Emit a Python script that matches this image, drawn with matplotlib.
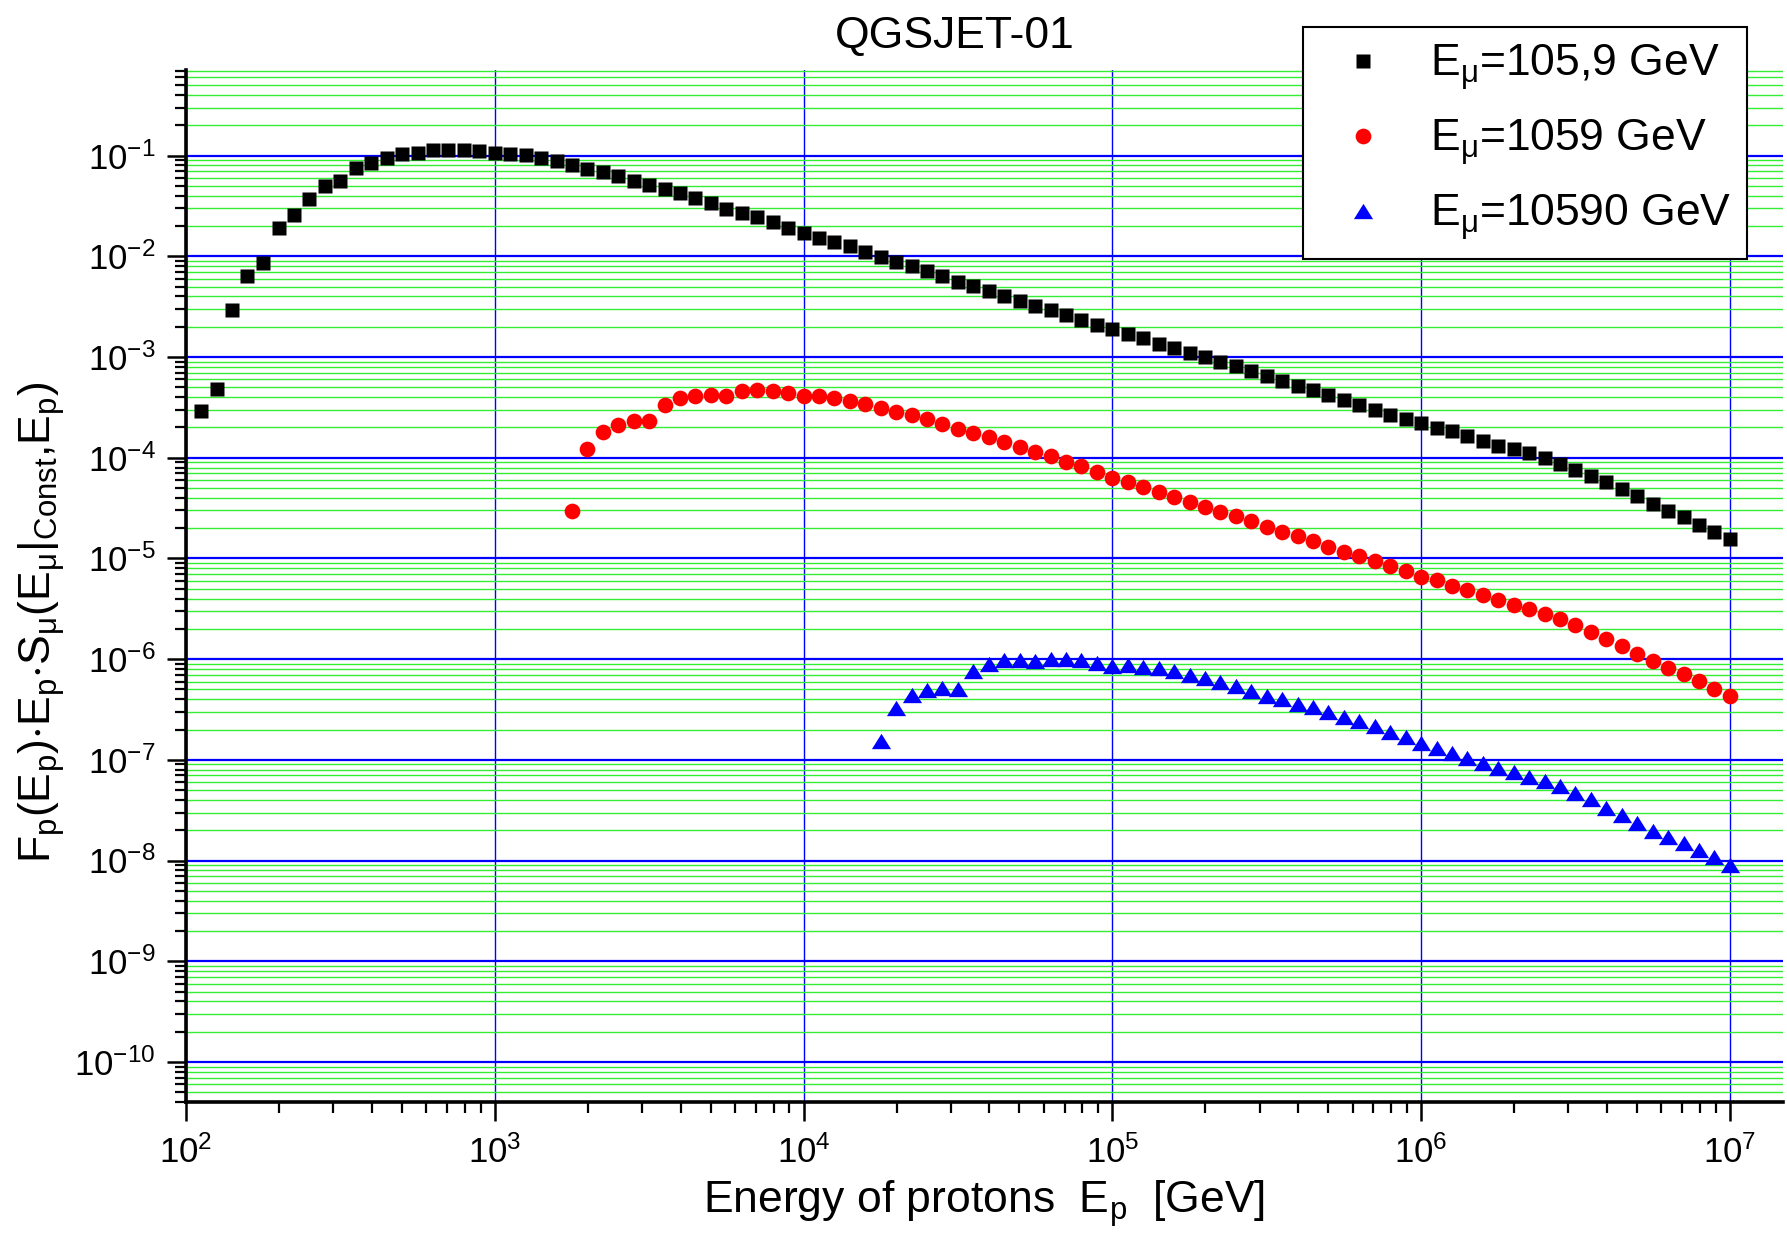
import matplotlib
matplotlib.use("Agg")
import matplotlib.pyplot as plt
from matplotlib.ticker import LogLocator, NullFormatter, LogFormatterSciNotation

plt.rcParams["font.family"] = ["Liberation Sans", "DejaVu Sans"]
plt.rcParams["mathtext.fontset"] = "custom"
plt.rcParams["mathtext.rm"] = "Liberation Sans"
plt.rcParams["mathtext.it"] = "Liberation Sans:italic"
plt.rcParams["mathtext.bf"] = "Liberation Sans:bold"
plt.rcParams["mathtext.default"] = "regular"

# proton energies [GeV], same grid for all three curves
energy = [
    112, 126, 141, 158, 178, 200, 224, 251, 282, 316,
    355, 398, 447, 501, 562, 631, 708, 794, 891, 1000,
    1122, 1259, 1413, 1585, 1778, 1995, 2239, 2512, 2818, 3162,
    3548, 3981, 4467, 5012, 5623, 6310, 7079, 7943, 8913, 1.0e4,
    1.122e4, 1.259e4, 1.413e4, 1.585e4, 1.778e4, 1.995e4, 2.239e4, 2.512e4, 2.818e4, 3.162e4,
    3.548e4, 3.981e4, 4.467e4, 5.012e4, 5.623e4, 6.310e4, 7.079e4, 7.943e4, 8.913e4, 1.0e5,
    1.122e5, 1.259e5, 1.413e5, 1.585e5, 1.778e5, 1.995e5, 2.239e5, 2.512e5, 2.818e5, 3.162e5,
    3.548e5, 3.981e5, 4.467e5, 5.012e5, 5.623e5, 6.310e5, 7.079e5, 7.943e5, 8.913e5, 1.0e6,
    1.122e6, 1.259e6, 1.413e6, 1.585e6, 1.778e6, 1.995e6, 2.239e6, 2.512e6, 2.818e6, 3.162e6,
    3.548e6, 3.981e6, 4.467e6, 5.012e6, 5.623e6, 6.310e6, 7.079e6, 7.943e6, 8.913e6, 1.0e7,
]

# E_mu = 105.9 GeV
vals_105 = [
    2.9e-4, 4.8e-4, 2.96e-3, 6.4e-3, 8.6e-3, 1.91e-2, 2.6e-2, 3.69e-2, 4.97e-2, 5.6e-2,
    7.5e-2, 8.5e-2, 9.5e-2, 0.104, 0.106, 0.113, 0.113, 0.113, 0.111, 0.106,
    0.105, 0.101, 0.0948, 0.0885, 0.080, 0.0743, 0.0693, 0.0623, 0.0565, 0.0507,
    0.0463, 0.0422, 0.0377, 0.0336, 0.0298, 0.0272, 0.0244, 0.0220, 0.0193, 0.0172,
    0.0154, 0.0139, 0.0126, 0.0111, 0.0098, 8.88e-3, 7.98e-3, 7.17e-3, 6.34e-3, 5.61e-3,
    5.05e-3, 4.57e-3, 4.08e-3, 3.64e-3, 3.19e-3, 2.92e-3, 2.64e-3, 2.36e-3, 2.10e-3, 1.88e-3,
    1.70e-3, 1.55e-3, 1.36e-3, 1.23e-3, 1.10e-3, 1.00e-3, 8.88e-4, 8.1e-4, 7.23e-4, 6.45e-4,
    5.75e-4, 5.21e-4, 4.68e-4, 4.24e-4, 3.73e-4, 3.38e-4, 3.01e-4, 2.69e-4, 2.44e-4, 2.22e-4,
    1.98e-4, 1.84e-4, 1.66e-4, 1.48e-4, 1.32e-4, 1.21e-4, 1.12e-4, 9.96e-5, 8.75e-5, 7.63e-5,
    6.66e-5, 5.72e-5, 4.91e-5, 4.15e-5, 3.49e-5, 2.95e-5, 2.57e-5, 2.17e-5, 1.82e-5, 1.57e-5,
]

# E_mu = 1059 GeV (starts at the 25th energy)
vals_1059 = [
    2.95e-5, 1.23e-4, 1.81e-4, 2.14e-4, 2.31e-4, 2.34e-4,
    3.35e-4, 3.90e-4, 4.15e-4, 4.18e-4, 4.08e-4, 4.58e-4, 4.68e-4, 4.65e-4, 4.41e-4, 4.15e-4,
    4.08e-4, 3.93e-4, 3.70e-4, 3.43e-4, 3.10e-4, 2.88e-4, 2.67e-4, 2.43e-4, 2.17e-4, 1.94e-4,
    1.77e-4, 1.61e-4, 1.45e-4, 1.29e-4, 1.15e-4, 1.03e-4, 9.18e-5, 8.24e-5, 7.19e-5, 6.32e-5,
    5.77e-5, 5.18e-5, 4.59e-5, 4.06e-5, 3.62e-5, 3.26e-5, 2.90e-5, 2.63e-5, 2.33e-5, 2.05e-5,
    1.84e-5, 1.66e-5, 1.50e-5, 1.31e-5, 1.16e-5, 1.05e-5, 9.48e-6, 8.38e-6, 7.48e-6, 6.57e-6,
    6.09e-6, 5.39e-6, 4.89e-6, 4.29e-6, 3.89e-6, 3.49e-6, 3.14e-6, 2.82e-6, 2.52e-6, 2.20e-6,
    1.87e-6, 1.60e-6, 1.35e-6, 1.13e-6, 9.57e-7, 8.22e-7, 7.06e-7, 6.06e-7, 5.09e-7, 4.27e-7,
]

# E_mu = 10590 GeV (starts at the 45th energy)
vals_10590 = [
    1.54e-7, 3.24e-7, 4.40e-7, 4.90e-7, 5.13e-7, 5.09e-7,
    7.55e-7, 8.93e-7, 9.72e-7, 9.72e-7, 9.5e-7, 9.93e-7, 9.93e-7, 9.8e-7, 9.14e-7, 8.54e-7,
    8.73e-7, 8.41e-7, 8.09e-7, 7.55e-7, 6.95e-7, 6.44e-7, 5.97e-7, 5.41e-7, 4.82e-7, 4.30e-7,
    3.98e-7, 3.61e-7, 3.34e-7, 3.01e-7, 2.69e-7, 2.43e-7, 2.17e-7, 1.90e-7, 1.68e-7, 1.48e-7,
    1.32e-7, 1.18e-7, 1.05e-7, 9.37e-8, 8.35e-8, 7.51e-8, 6.81e-8, 6.16e-8, 5.50e-8, 4.72e-8,
    4.05e-8, 3.35e-8, 2.83e-8, 2.38e-8, 1.96e-8, 1.72e-8, 1.51e-8, 1.27e-8, 1.09e-8, 9.0e-9,
]

labels = [r"$E_{\mu}$=105,9 GeV", r"$E_{\mu}$=1059 GeV", r"$E_{\mu}$=10590 GeV"]

W, H = 1787, 1239
fig = plt.figure(figsize=(W / 100, H / 100), dpi=100)
ax = fig.add_axes([186 / W, 1 - 1102 / H, (1783 - 186) / W, (1102 - 70) / H])

tri = [(0, 0.8), (-1, -0.8), (1, -0.8), (0, 0.8)]
ax.plot(energy, vals_105, ls="none", marker="s", ms=9.8, mfc="k", mec="none", label=labels[0])
ax.plot(energy[24:], vals_1059, ls="none", marker="o", ms=11.3, mfc="#ff0000", mec="none", label=labels[1])
ax.plot(energy[44:], vals_10590, ls="none", marker=tri, ms=13.8, mfc="#0000ff", mec="none", label=labels[2])

ax.set_xscale("log")
ax.set_yscale("log")
ax.set_xlim(100, 1.486e7)
ax.set_ylim(4.0e-11, 0.71)

for axis in (ax.xaxis, ax.yaxis):
    axis.set_major_locator(LogLocator(base=10, numticks=30))
    axis.set_minor_locator(LogLocator(base=10, subs=range(2, 10), numticks=30))
    axis.set_minor_formatter(NullFormatter())
    axis.set_major_formatter(LogFormatterSciNotation())

# grid: blue decades, green minor horizontals
ax.set_axisbelow(True)
ax.yaxis.grid(True, which="major", color="#0000ff", lw=1.6)
ax.xaxis.grid(True, which="major", color="#0000ff", lw=1.0)
ax.yaxis.grid(True, which="minor", color="#33ee33", lw=1.0)

for s in ("top", "right"):
    ax.spines[s].set_visible(False)
for s in ("left", "bottom"):
    ax.spines[s].set_linewidth(2.6)

ax.tick_params(which="major", direction="out", length=14, width=1.8, labelsize=25)
ax.tick_params(which="minor", direction="out", length=8, width=1.6)
ax.tick_params(axis="x", which="major", pad=10)
ax.tick_params(axis="y", which="major", pad=8)

fig.text(955 / W, 1 - 36 / H, "QGSJET-01", ha="center", va="center", fontsize=32)
fig.text(984 / W, 1 - 1213 / H, r"Energy of protons  $E_p$  [GeV]",
         ha="center", va="baseline", fontsize=32)
fig.text(42 / W, 1 - 622 / H,
         r"$F_p(E_p){\cdot}E_p{\cdot}S_{\mu}(E_{\mu}|_{Const}{,}E_p)$",
         ha="center", va="center", rotation=90, fontsize=32)

leg = ax.legend(loc="upper right", bbox_to_anchor=(1746.7 / W, 1 - 26.7 / H),
                bbox_transform=fig.transFigure, borderaxespad=0, fontsize=32,
                numpoints=1, frameon=True, fancybox=False, framealpha=1, edgecolor="k",
                borderpad=0.35, handlelength=2.0, handletextpad=0.5, labelspacing=0.55)
leg.get_frame().set_linewidth(1.5)

fig.savefig("out.png", dpi=100)
